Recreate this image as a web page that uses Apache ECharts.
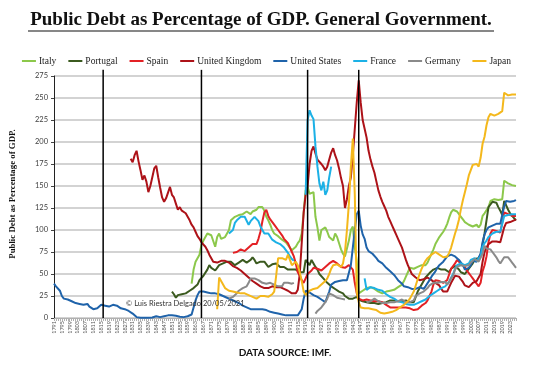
<!DOCTYPE html>
<html><head><meta charset="utf-8">
<script src="https://cdn.jsdelivr.net/npm/echarts@6/dist/echarts.min.js"></script>
<style>html,body{margin:0;padding:0;background:#fff}#c{width:533px;height:369px}</style>
</head><body><div id="c"></div>
<script>
const firstYear = 1791, lastYear = 2026;
const eventYears = [1816, 1866, 1920, 1946];
const yTicks = [0, 25, 50, 75, 100, 125, 150, 175, 200, 225, 250, 275];
const countries = ['Italy','Portugal','Spain','United Kingdom','United States','France','Germany','Japan'];

const usStart = 1791;
const usVals = [
 39,36,34,31,25,22,21,21,20,
 19,18,17,17,16,16,15,14,16,13,
 12,10,9,11,13,15,16,14,13,13,
 14,15,15,14,13,11,10,10,9,8,
 7,5,3,1,0.3,0.2,0.2,0.3,0.3,0.4,
 0.5,0.5,1,2,1.5,1,1,2,3,3,
 3,3,3,2.5,2,1.5,1,1,1.5,2,
 2,4,12,20,26,30,31,30,29,29,
 28,28,28,28,28,27,26,25,24,23,
 22,21,20,19,18,17,16,14,13,12,
 11,10,10,10,10,10,10,10,9,9,
 8,7,6,6,5,5,4,4,4,3,
 3,3,3,3,3,3,3,10,22,31,
 30,29,28,26,25,24,22,21,20,18,
 20,30,38,40,41,42,42,42,43,43,
 43,44,60,80,100,118,122,105,95,90,
 80,76,74,73,72,68,65,63,62,60,
 57,55,53,51,49,46,43,41,39,36,
 36,35,34,33,32,33,34,35,35,33,
 36,38,43,47,49,53,57,60,62,64,
 66,70,72,72,71,70,69,66,63,60,
 55,54,57,60,65,65,64,64,73,86,
 95,100,103,105,105,105,107,106,107,108,
 127,133,131,132,133,133,134];

const ukStart = 1830;
const ukVals = [
 181,177,185,190,178,168,157,162,155,143,
 150,160,170,173,160,148,137,132,136,138,
 149,140,137,130,123,126,122,120,119,115,
 111,106,103,98,93,90,86,84,81,77,
 72,68,64,62,63,64,65,66,65,66,
 63,61,59,58,57,56,54,52,50,48,
 46,44,42,40,39,38,36,35,34,33,
 34,35,36,36,35,35,35,33,33,32,
 31,29,28,27,28,32,50,85,120,140,
 150,175,190,195,187,180,178,175,172,168,
 172,180,188,193,185,179,170,159,150,125,
 135,150,160,185,215,245,270,245,225,215,
 205,190,180,172,165,155,145,138,132,127,
 122,115,110,105,100,95,90,88,80,73,
 66,60,55,50,48,46,45,43,43,44,
 46,46,44,43,42,40,39,37,33,30,
 29,30,35,40,44,48,48,47,44,41,
 37,35,35,37,40,41,42,42,50,64,
 75,80,84,85,87,87,87,86,86,85,
 103,108,108,109,110,111,112];

const italyStart = 1861;
const italyVals = [
 39,55,64,68,72,83,88,92,96,
 96,94,94,81,92,96,90,88,92,92,
 100,111,113,115,114,117,116,118,120,121,
 119,118,121,122,123,126,125,126,122,115,
 111,106,100,96,95,93,92,89,88,86,
 84,80,77,78,81,85,88,96,120,145,
 149,141,142,143,115,103,88,100,101,103,
 98,92,90,88,96,92,85,78,73,70,
 69,88,100,104,80,65,28,30,31,33,
 34,35,35,35,33,32,30,29,28,29,
 30,30,31,31,32,34,35,36,38,42,
 47,52,57,58,56,58,58,57,60,62,
 60,63,68,73,78,84,88,92,95,98,
 102,107,114,120,123,122,121,118,115,112,
 109,108,106,104,104,106,106,103,106,116,
 119,120,126,133,135,135,135,134,135,135,
 156,155,153,152,151,151,150];

const japanStart = 1874;
const japanVals = [
 10,46,42,38,34,32,
 31,30,30,30,29,29,28,27,28,27,
 26,25,24,23,22,23,25,26,25,24,
 24,25,27,30,48,68,70,68,66,66,
 72,66,60,58,64,60,52,42,30,26,
 28,31,32,33,34,34,35,38,40,42,
 45,50,56,60,62,61,60,58,62,75,
 100,130,172,204,140,30,18,12,12,11,
 11,11,11,10,10,9,8,6,5,5,
 5,6,6,7,8,9,11,12,14,15,
 16,19,22,26,30,37,44,50,56,61,
 65,68,70,72,74,75,74,72,70,69,
 68,70,74,80,88,96,103,112,124,134,
 143,152,162,168,174,176,175,172,182,198,
 206,219,228,232,234,230,231,232,233,235,
 256,256,253,253,254,254,254];

const germanyStart = 1880;
const germanyVals = [
 22,23,24,26,28,31,32,34,35,36,
 40,45,47,45,44,43,42,40,39,39,
 39,40,39,38,37,36,35,36,40,41,
 40,39,39,40,null,null,null,null,null,null,
 null,null,null,null,5,8,10,12,14,18,
 22,28,28,26,24,23,23,22,22,21,
 null,null,null,null,null,null,null,null,null,null,
 18,17,19,21,22,20,19,18,17,17,
 17,17,18,18,18,19,19,21,21,20,
 18,18,18,18,20,25,27,28,29,30,
 31,34,37,39,40,40,40,41,41,40,
 41,38,41,45,48,55,58,59,60,60,
 59,58,60,63,65,67,66,64,65,73,
 82,79,81,78,75,72,69,65,62,60,
 69,71,69,66,63,60,57];

const franceStart = 1880;
const franceVals = [
 96,98,100,108,111,113,115,116,115,114,
 106,110,112,115,114,110,104,100,96,96,
 96,94,89,88,86,85,84,82,80,78,
 74,70,67,65,null,null,null,null,null,140,
 225,236,230,226,195,172,153,145,155,140,
 145,160,172,null,null,null,null,null,null,null,
 null,null,null,null,null,null,null,null,null,45,
 32,34,35,35,34,33,32,32,31,29,
 27,25,24,24,22,20,19,18,18,17,
 16,15,15,14,15,16,17,18,19,20,
 21,22,25,27,28,30,31,33,34,35,
 36,37,41,46,50,56,60,61,62,61,
 60,60,62,66,67,68,65,66,70,81,
 85,88,92,94,96,97,98,98,98,98,
 116,116,117,118,118,118,118];

const portugalStart = 1851;
const portugalVals = [
 30,27,23,26,28,27,28,28,30,
 31,33,34,36,38,43,45,48,50,55,
 60,57,55,54,57,60,62,62,63,64,
 66,64,62,60,62,63,65,66,64,63,
 62,66,69,66,62,63,64,66,64,62,
 58,60,61,63,62,60,58,56,58,57,
 55,54,55,54,55,53,52,50,52,66,
 67,60,66,65,58,55,50,48,45,43,
 40,38,36,35,33,31,30,29,28,25,
 23,22,21,22,23,24,21,20,19,19,
 18,18,17,17,17,16,16,16,17,18,
 18,19,20,20,20,19,19,19,19,19,
 20,19,18,16,18,24,30,34,38,42,
 46,48,51,53,55,56,57,56,55,54,
 55,55,52,56,58,59,58,55,52,51,
 50,53,56,58,62,67,69,68,72,84,
 96,111,126,129,132,131,131,126,122,117,
 133,128,123,119,116,114,111];

const spainStart = 1882;
const spainVals = [
 74,73,75,76,78,77,76,75,
 80,82,84,86,84,90,98,110,120,123,
 116,112,110,106,104,100,98,94,90,88,
 85,80,75,70,62,52,48,43,40,45,
 50,51,54,57,58,56,55,54,55,58,
 60,62,64,65,66,62,60,58,58,57,
 55,60,62,55,40,28,22,21,20,20,
 21,20,20,20,19,19,19,18,18,17,
 15,13,12,12,12,12,12,12,12,12,
 12,12,11,10,9,8,10,12,14,16,
 17,20,25,30,38,43,44,42,40,40,
 42,43,45,56,59,62,66,64,62,60,
 58,54,51,48,45,42,39,36,40,53,
 60,70,86,96,100,99,99,98,97,96,
 120,120,118,117,116,116,116];

const years = [];
for (let y = firstYear; y <= lastYear; y++) years.push(String(y));

function full(start, vals) {
  return years.map(function (ys) {
    const i = Number(ys) - start;
    return (i >= 0 && i < vals.length) ? vals[i] : null;
  });
}

const seriesDefs = [
  ['Italy', italyStart, italyVals, '#8cc84b'],
  ['Portugal', portugalStart, portugalVals, '#3b5a1f'],
  ['Spain', spainStart, spainVals, '#e32125'],
  ['United Kingdom', ukStart, ukVals, '#ad1218'],
  ['United States', usStart, usVals, '#1f63aa'],
  ['France', franceStart, franceVals, '#1cb1e6'],
  ['Germany', germanyStart, germanyVals, '#8a8a8a'],
  ['Japan', japanStart, japanVals, '#f4b81c']
];

const series = [];
eventYears.forEach(function (ey) {
  series.push({
    type: 'line', silent: true, clip: false, symbol: 'none', z: 5,
    data: [[String(ey), 0], [String(ey), 282]],
    lineStyle: { color: '#000', width: 1.5 }
  });
});
seriesDefs.forEach(function (d) {
  series.push({
    name: d[0], type: 'line', symbol: 'none', showSymbol: false,
    connectNulls: false, z: 3,
    data: full(d[1], d[2]),
    itemStyle: { color: d[3] },
    lineStyle: { color: d[3], width: 2 }
  });
});

const chart = echarts.init(document.getElementById('c'), null, { renderer: 'canvas' });
chart.setOption({
  animation: false,
  backgroundColor: '#fff',
  grid: { left: 54, right: 17, top: 76, bottom: 51, containLabel: false, outerBoundsMode: 'none' },
  legend: {
    data: countries, top: 51, left: 'center',
    icon: 'rect', itemWidth: 14, itemHeight: 2, itemGap: 12,
    textStyle: { fontFamily: 'Liberation Serif', fontSize: 9.5, color: '#222', padding: [0, 0, 0, -2] }
  },
  xAxis: {
    type: 'category', data: years, boundaryGap: false,
    axisLine: { lineStyle: { color: '#b0b0b0', width: 1 } },
    axisTick: { interval: 0, length: 3, lineStyle: { color: '#b0b0b0' } },
    axisLabel: { interval: 3, rotate: 90, fontSize: 5.5, color: '#555', fontFamily: 'Lato', margin: 3 },
    splitLine: { show: false }
  },
  yAxis: {
    type: 'value', min: yTicks[0], max: yTicks[yTicks.length - 1], interval: 25,
    axisLine: { show: true, lineStyle: { color: '#222', width: 1 } },
    axisTick: { show: true, length: 3, lineStyle: { color: '#444' } },
    axisLabel: { fontSize: 7.5, color: '#404040', fontFamily: 'Lato', margin: 6 },
    splitLine: { lineStyle: { color: '#c4c4c4', width: 1.5 } }
  },
  graphic: [
    { type: 'text', x: 261, y: 20, z: 10,
      style: { text: 'Public Debt as Percentage of GDP. General Government.', align: 'center', verticalAlign: 'middle',
        font: 'bold 19px "Liberation Serif"', fill: '#111' } },
    { type: 'line', z: 10, shape: { x1: 28, y1: 31, x2: 494, y2: 31 }, style: { stroke: '#111', lineWidth: 1.2 } },
    { type: 'text', x: 13, y: 194, rotation: Math.PI / 2, z: 10,
      style: { text: 'Public Debt as Percentage of GDP.', align: 'center', verticalAlign: 'middle',
        font: 'bold 8.8px "Liberation Serif"', fill: '#111' } },
    { type: 'text', x: 126, y: 304, z: 10,
      style: { text: '\u00a9 Luis Riestra Delgado 20/05/2021', align: 'left', verticalAlign: 'middle',
        font: '7.5px Lato', fill: '#333' } },
    { type: 'text', x: 285, y: 353, z: 10,
      style: { text: 'DATA SOURCE: IMF.', align: 'center', verticalAlign: 'middle',
        font: 'bold 10px Lato', fill: '#111' } }
  ],
  series: series
});
</script>
</body></html>
